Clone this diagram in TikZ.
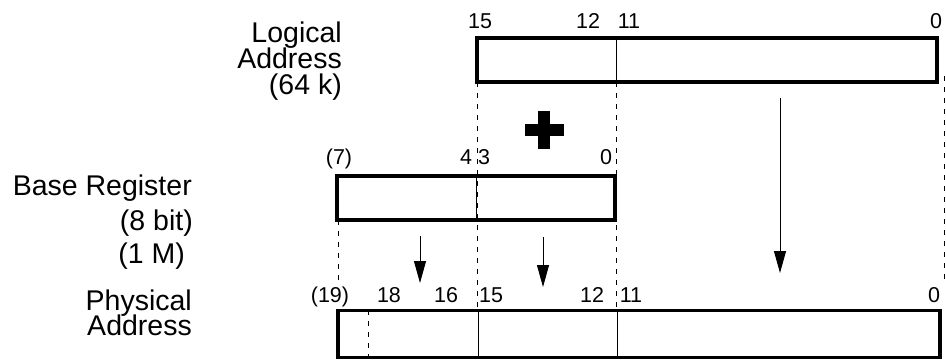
\documentclass[tikz,border=0pt]{standalone}
\usepackage{fontspec}
\setmainfont{Liberation Sans}
\usetikzlibrary{arrows.meta}
\begin{document}
\begin{tikzpicture}[x=1pt,y=-1pt,
  regbox/.style={draw=black, line width=3.5pt, fill=none, inner sep=0pt, outer sep=0pt},
  divider/.style={line width=0.9pt},
  guide/.style={line width=0.9pt, dash pattern=on 5pt off 6pt},
  flow/.style={line width=1pt, -{Triangle[length=22pt,width=12pt]}},
  title/.style={anchor=base east, inner sep=0pt, font=\fontsize{28.5}{30}\selectfont},
  bitno/.style={anchor=base, inner sep=0pt, font=\fontsize{21.5}{24}\selectfont}]
\useasboundingbox (0,0) rectangle (946,360);

% titles
\node[title] (t1) at (342,42) {Logical};
\node[title] (t2) at (342,68) {Address};
\node[title] (t3) at (342,94) {(64 k)};
\node[title] (t4) at (192,195) {Base Register};
\node[title] (t5) at (193,230) {(8 bit)};
\node[title] (t6) at (185,263) {(1 M)};
\node[title] (t7) at (192,310) {Physical};
\node[title] (t8) at (192,335) {Address};

% dashed guides
\draw[guide] (477,82) -- (477,310);
\draw[guide] (616,82) -- (616,310);
\draw[guide] (944,76) -- (944,284);
\draw[guide] (338,220) -- (338,281);
\draw[guide] (368,310) -- (368,357);

% boxes
\node[regbox, minimum width=460pt, minimum height=44pt] (la) at (707,60) {};
\node[regbox, minimum width=278pt, minimum height=44pt] (br) at (476,198) {};
\node[regbox, minimum width=602pt, minimum height=47pt] (pa) at (639,334) {};

% dividers
\draw[divider] (616,38) -- (616,82);
\draw[divider] (476,176) -- (476,220);
\draw[divider] (478,310) -- (478,357);
\draw[divider] (617,310) -- (617,357);

% bit numbers
\node[bitno] (l15) at (480,28) {15};
\node[bitno] (l12) at (588,28) {12};
\node[bitno] (l11) at (629,28) {11};
\node[bitno] (l0) at (936,28) {0};
\node[bitno] (b7) at (339,164) {(7)};
\node[bitno] (b4) at (466,164) {4};
\node[bitno] (b3) at (484,164) {3};
\node[bitno] (b0) at (606,164) {0};
\node[bitno] (p19) at (330,302) {(19)};
\node[bitno] (p18) at (389,302) {18};
\node[bitno] (p16) at (446,302) {16};
\node[bitno] (p15) at (491,302) {15};
\node[bitno] (p12) at (592,302) {12};
\node[bitno] (p11) at (631,302) {11};
\node[bitno] (p0) at (934,302) {0};

% plus sign
\fill (538,111) rectangle (550,149);
\fill (525,124) rectangle (564,136);

% arrows
\coordinate (a1s) at (420,236); \coordinate (a1e) at (420,283);
\coordinate (a2s) at (543,237); \coordinate (a2e) at (543,287);
\coordinate (a3s) at (780,98);  \coordinate (a3e) at (780,273);
\draw[flow] (a1s) -- (a1e);
\draw[flow] (a2s) -- (a2e);
\draw[flow] (a3s) -- (a3e);
\end{tikzpicture}
\end{document}
